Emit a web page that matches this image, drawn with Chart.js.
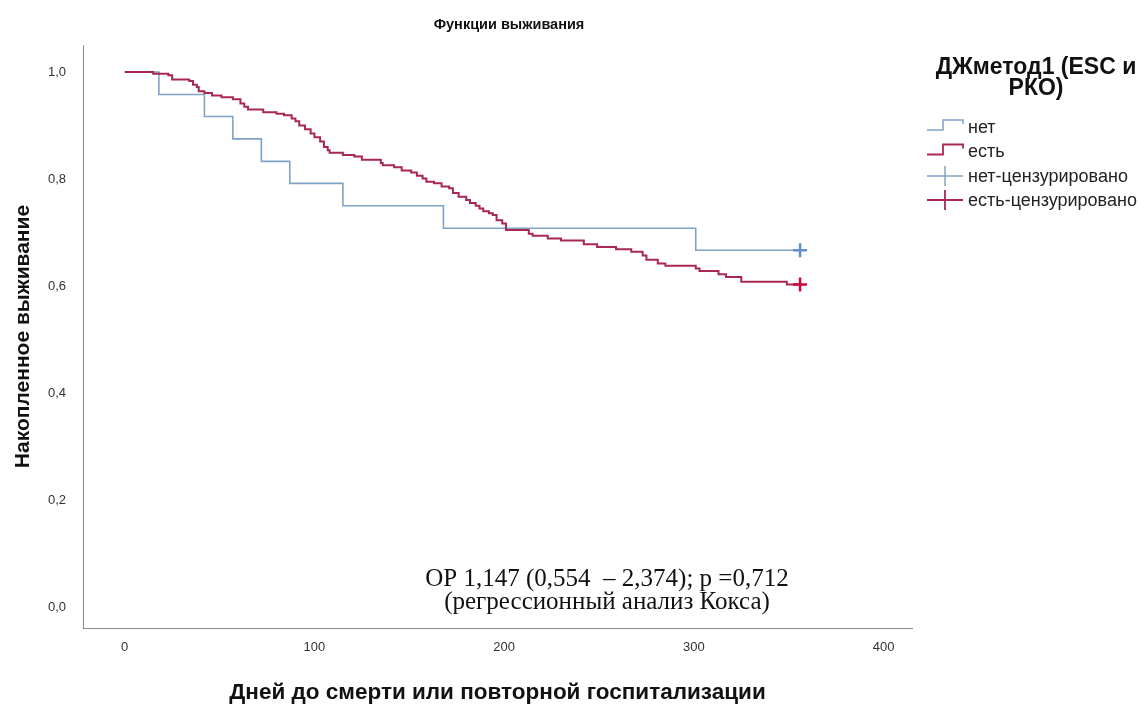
<!DOCTYPE html>
<html lang="ru">
<head>
<meta charset="utf-8">
<title>Функции выживания</title>
<script src="https://cdn.jsdelivr.net/npm/chart.js@4.4.1/dist/chart.umd.min.js"></script>
<style>
  html, body { margin: 0; padding: 0; background: #ffffff; }
  #wrap { position: relative; width: 1148px; height: 709px; }
  canvas { display: block; }
</style>
</head>
<body>
<div id="wrap"><canvas id="km" width="1148" height="709"></canvas></div>
<script>
// Kaplan–Meier curves: days of follow-up and cumulative survival after each drop
const groupNames = ['нет', 'есть'];
const censorNames = ['нет-цензурировано', 'есть-цензурировано'];
const legendTitle = ['ДЖметод1 (ESC и', 'РКО)'];

const daysNo = [0, 18, 42, 57, 72, 87, 115, 168, 301, 356];
const survNo = [1.000, 0.958, 0.917, 0.875, 0.833, 0.792, 0.750, 0.708, 0.667, 0.667];

const daysYes = [0, 15, 23, 25, 34, 36, 38, 39, 42, 46, 51, 57, 61, 63, 65, 73, 80, 84, 88, 90,
  92, 95, 98, 100, 103, 105, 107, 108, 115, 121, 125, 135, 136, 142, 146, 151, 154, 157, 159, 163,
  167, 171, 173, 176, 180, 182, 185, 187, 189, 192, 194, 196, 199, 201, 213, 215, 223, 230, 242, 249,
  259, 267, 273, 275, 281, 285, 301, 303, 313, 317, 325, 349, 356];
const survYes = [1.000, 0.997, 0.994, 0.986, 0.983, 0.976, 0.972, 0.964, 0.961, 0.956, 0.953, 0.949, 0.941, 0.935, 0.930, 0.925, 0.922, 0.919, 0.913, 0.908,
  0.900, 0.893, 0.885, 0.878, 0.870, 0.860, 0.854, 0.849, 0.845, 0.842, 0.836, 0.830, 0.826, 0.822, 0.816, 0.812, 0.806, 0.801, 0.795, 0.792,
  0.786, 0.783, 0.774, 0.767, 0.761, 0.755, 0.750, 0.745, 0.740, 0.736, 0.733, 0.723, 0.717, 0.705, 0.698, 0.694, 0.689, 0.685, 0.678, 0.673,
  0.669, 0.664, 0.657, 0.649, 0.642, 0.638, 0.633, 0.628, 0.622, 0.617, 0.608, 0.603, 0.603];

const censorDaysNo = [356];
const censorSurvNo = [0.667];
const censorDaysYes = [356];
const censorSurvYes = [0.603];

const xTicks = [0, 100, 200, 300, 400];
const yTicks = [0.0, 0.2, 0.4, 0.6, 0.8, 1.0];

const chartTitle = 'Функции выживания';
const xTitle = 'Дней до смерти или повторной госпитализации';
const yTitle = 'Накопленное выживание';
const noteLines = ['ОР 1,147 (0,554  – 2,374); p =0,712', '(регрессионный анализ Кокса)'];

const SANS = "'Liberation Sans', Arial, sans-serif";
const SERIF = "'Liberation Serif', 'Times New Roman', serif";
const BLUE = '#7fa3c6';
const RED = '#a8284f';
const BLUE_MARK = '#5d8fcf';
const RED_MARK = '#d0043c';

const pts = (xs, ys) => xs.map((x, i) => ({ x: x, y: ys[i] }));
const comma = v => v.toFixed(1).replace('.', ',');

// Title, legend and the Cox-regression note
const decor = {
  id: 'decor',
  afterDraw(chart) {
    const ctx = chart.ctx;
    ctx.save();
    ctx.fillStyle = '#111';
    ctx.textBaseline = 'middle';
    ctx.textAlign = 'center';
    ctx.font = `bold 14.5px ${SANS}`;
    ctx.fillText(chartTitle, 509, 25);

    // legend
    ctx.font = `bold 23px ${SANS}`;
    ctx.fillText(legendTitle[0], 1036, 68);
    ctx.fillText(legendTitle[1], 1036, 89);

    const rows = [127, 151.5, 176, 200];
    const names = [groupNames[0], groupNames[1], censorNames[0], censorNames[1]];
    const cols = [BLUE, RED, BLUE, RED];
    ctx.textAlign = 'left';
    ctx.font = `18px ${SANS}`;
    rows.forEach((y, i) => {
      ctx.strokeStyle = cols[i];
      ctx.lineWidth = i === 1 || i === 3 ? 1.8 : 1.5;
      ctx.beginPath();
      if (i < 2) {
        ctx.moveTo(927, y + 3);
        ctx.lineTo(943, y + 3);
        ctx.lineTo(943, y - 7);
        ctx.lineTo(963, y - 7);
        ctx.lineTo(963, y - 3);
      } else {
        ctx.moveTo(927, y);
        ctx.lineTo(963, y);
        ctx.moveTo(945, y - 10);
        ctx.lineTo(945, y + 10);
      }
      ctx.stroke();
      ctx.fillStyle = '#222';
      ctx.fillText(names[i], 968, y + 1);
    });

    // note
    ctx.textAlign = 'center';
    ctx.fillStyle = '#111';
    ctx.font = `25px ${SERIF}`;
    ctx.fillText(noteLines[0], 607, 579);
    ctx.fillText(noteLines[1], 607, 602);
    ctx.restore();
  }
};

new Chart(document.getElementById('km'), {
  type: 'line',
  data: {
    datasets: [
      { label: groupNames[1], data: pts(daysYes, survYes), stepped: 'before', borderColor: RED,
        borderWidth: 2, pointRadius: 0, fill: false, order: 1 },
      { label: groupNames[0], data: pts(daysNo, survNo), stepped: 'before', borderColor: BLUE,
        borderWidth: 1.6, pointRadius: 0, fill: false, order: 2 },
      { label: censorNames[0], type: 'scatter', data: pts(censorDaysNo, censorSurvNo), pointStyle: 'cross',
        pointRadius: 7, pointBorderWidth: 2.5, pointBorderColor: BLUE_MARK, borderColor: BLUE_MARK, order: 0 },
      { label: censorNames[1], type: 'scatter', data: pts(censorDaysYes, censorSurvYes), pointStyle: 'cross',
        pointRadius: 7, pointBorderWidth: 2.5, pointBorderColor: RED_MARK, borderColor: RED_MARK, order: 0 }
    ]
  },
  options: {
    responsive: false,
    animation: false,
    devicePixelRatio: 1,
    layout: { padding: { top: 45, right: 236, left: 0, bottom: 0 } },
    plugins: { legend: { display: false }, title: { display: false }, tooltip: { enabled: false } },
    scales: {
      x: {
        type: 'linear', min: -22, max: 415,
        grid: { display: false, drawTicks: false },
        border: { display: true, color: '#8a8a8a', width: 1 },
        ticks: { color: '#333', font: { family: SANS, size: 13 }, padding: 12, callback: v => String(v) },
        afterBuildTicks: s => { s.ticks = xTicks.map(v => ({ value: v })); },
        afterFit: s => { s.height = 81; },
        title: { display: true, text: xTitle, color: '#111', font: { family: SANS, size: 22.5, weight: 'bold' },
          padding: { top: 0, bottom: 3 } }
      },
      y: {
        type: 'linear', min: -0.039, max: 1.0505,
        grid: { display: false, drawTicks: false },
        border: { display: true, color: '#8a8a8a', width: 1 },
        ticks: { color: '#333', font: { family: SANS, size: 13 }, padding: 17, callback: v => comma(v) },
        afterBuildTicks: s => { s.ticks = yTicks.map(v => ({ value: v })); },
        afterFit: s => { s.width = 83; },
        title: { display: true, text: yTitle, color: '#111', font: { family: SANS, size: 21, weight: 'bold' },
          padding: { top: 11, bottom: 0 } }
      }
    }
  },
  plugins: [decor]
});
</script>
</body>
</html>
